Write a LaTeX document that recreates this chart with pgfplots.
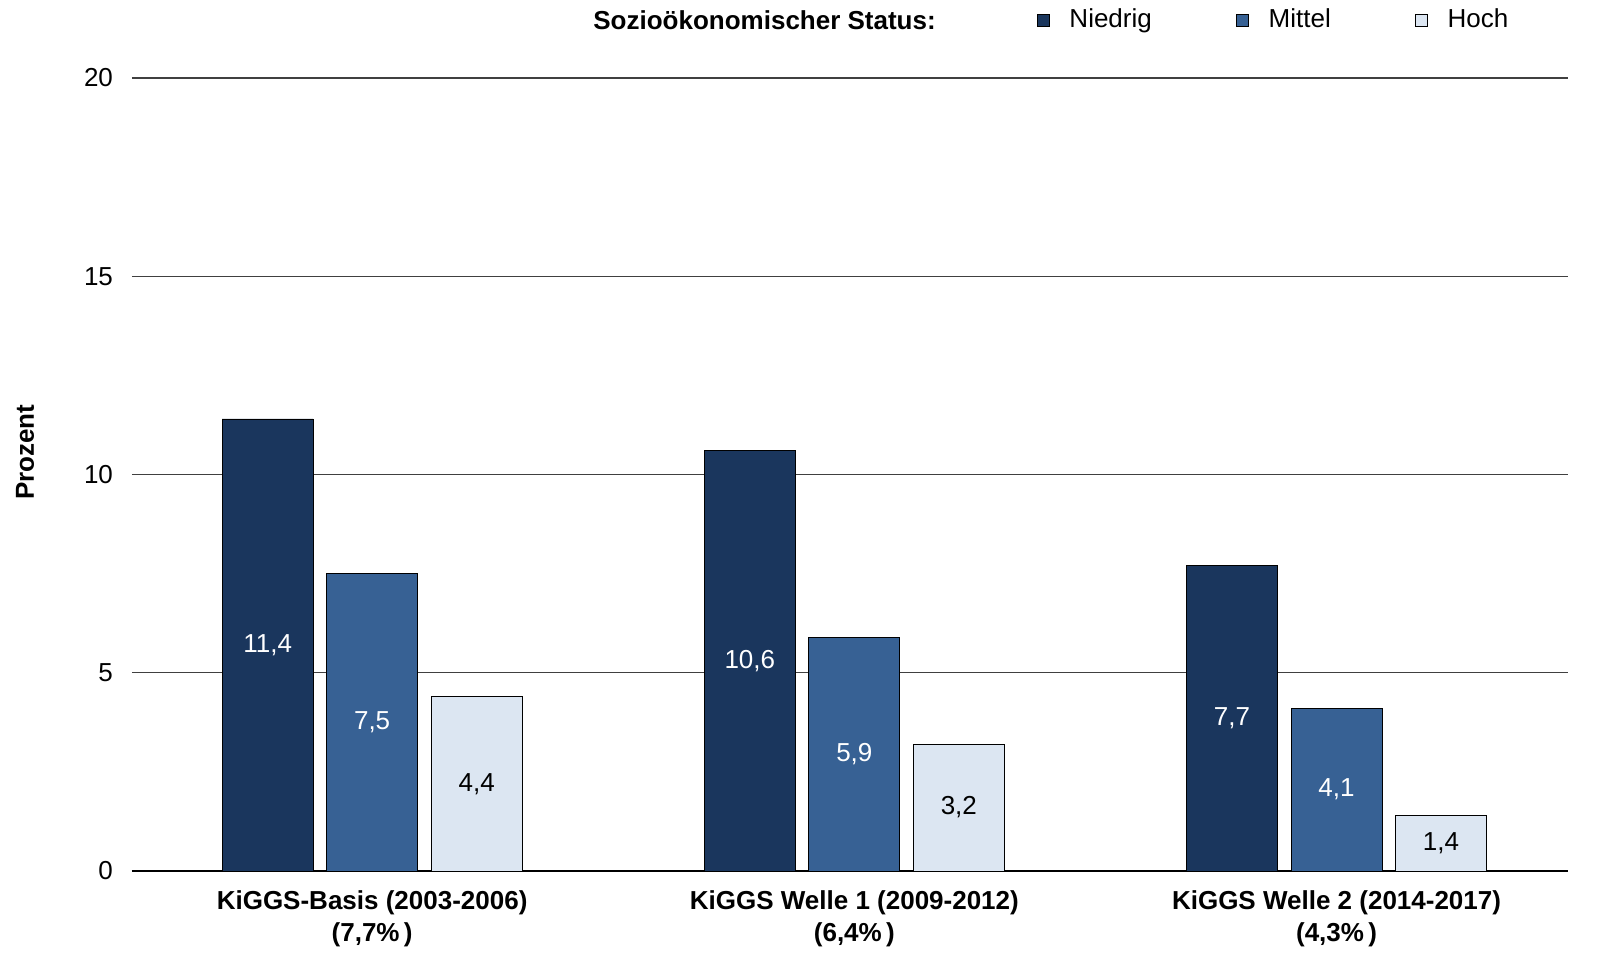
\documentclass[border=0pt]{standalone}
\usepackage{fontspec}
\setmainfont{Liberation Sans}
\usepackage{pgfplots}
\pgfplotsset{compat=1.18}
\definecolor{cDark}{HTML}{1A365D}
\definecolor{cMid}{HTML}{376194}
\definecolor{cLight}{HTML}{DCE6F2}
\definecolor{cGrid}{HTML}{404040}
\begin{document}
\begin{tikzpicture}[font=\fontsize{13}{16}\selectfont]
\path[use as bounding box] (-66pt,-53pt) rectangle (743pt,435.5pt);
\begin{axis}[
  at={(0pt,0pt)}, anchor=south west,
  scale only axis, clip=false,
  width=718pt, height=396.5pt,
  ybar=6.75pt, bar width=45.5pt,
  xmin=-0.498, xmax=2.48,
  ymin=0, ymax=20,
  ytick={0,5,10,15,20},
  xtick={0,1,2},
  xticklabels={{KiGGS-Basis (2003-2006)\\(7,7\%\,)},{KiGGS Welle 1 (2009-2012)\\(6,4\%\,)},{KiGGS Welle 2 (2014-2017)\\(4,3\%\,)}},
  xticklabel style={font=\fontsize{13}{16}\selectfont\bfseries, align=center, yshift=-6.5pt},
  yticklabel style={xshift=-6pt},
  /pgf/number format/assume math mode=true,
  axis x line*=bottom, axis y line*=left,
  y axis line style={draw=none},
  x axis line style={black, line width=0.8pt, -},
  major tick length=0pt,
  ymajorgrids, grid style={cGrid, line width=0.7pt},
  ylabel={\bfseries Prozent},
  ylabel style={at={(axis description cs:-0.0745,0.528)}, anchor=center, rotate=0},
  legend columns=3,
  legend style={draw=none, fill=none, inner sep=0pt, outer sep=0pt, at={(axis description cs:0.630,1.0731)}, anchor=west,
    /tikz/every odd column/.append style={column sep=8pt},
    /tikz/every even column/.append style={column sep=40pt}},
  legend image code/.code={\draw[#1, draw=black, line width=0.4pt] (0pt,-3pt) rectangle (6pt,3pt);},
  nodes near coords={\pgfmathprintnumber[use comma, fixed, fixed zerofill, precision=1, assume math mode=true]{\pgfplotspointmeta}},
  visualization depends on={y \as \rawy},
  every node near coord/.append style={anchor=center, yshift=-\rawy*9.9125pt, font=\fontsize{13}{16}\selectfont},
]
\addplot[fill=cDark, draw=black, line width=0.4pt, every node near coord/.append style={text=white}] coordinates {(0,11.4) (1,10.6) (2,7.7)};
\addplot[fill=cMid, draw=black, line width=0.4pt, every node near coord/.append style={text=white}] coordinates {(0,7.5) (1,5.9) (2,4.1)};
\addplot[fill=cLight, draw=black, line width=0.4pt, every node near coord/.append style={text=black}] coordinates {(0,4.4) (1,3.2) (2,1.4)};
\legend{Niedrig, Mittel, Hoch}
\node[anchor=east, font=\fontsize{13}{16}\selectfont\bfseries, inner sep=0pt] at (axis description cs:0.560,1.0731) {Sozioökonomischer Status:};
\end{axis}
\end{tikzpicture}
\end{document}
